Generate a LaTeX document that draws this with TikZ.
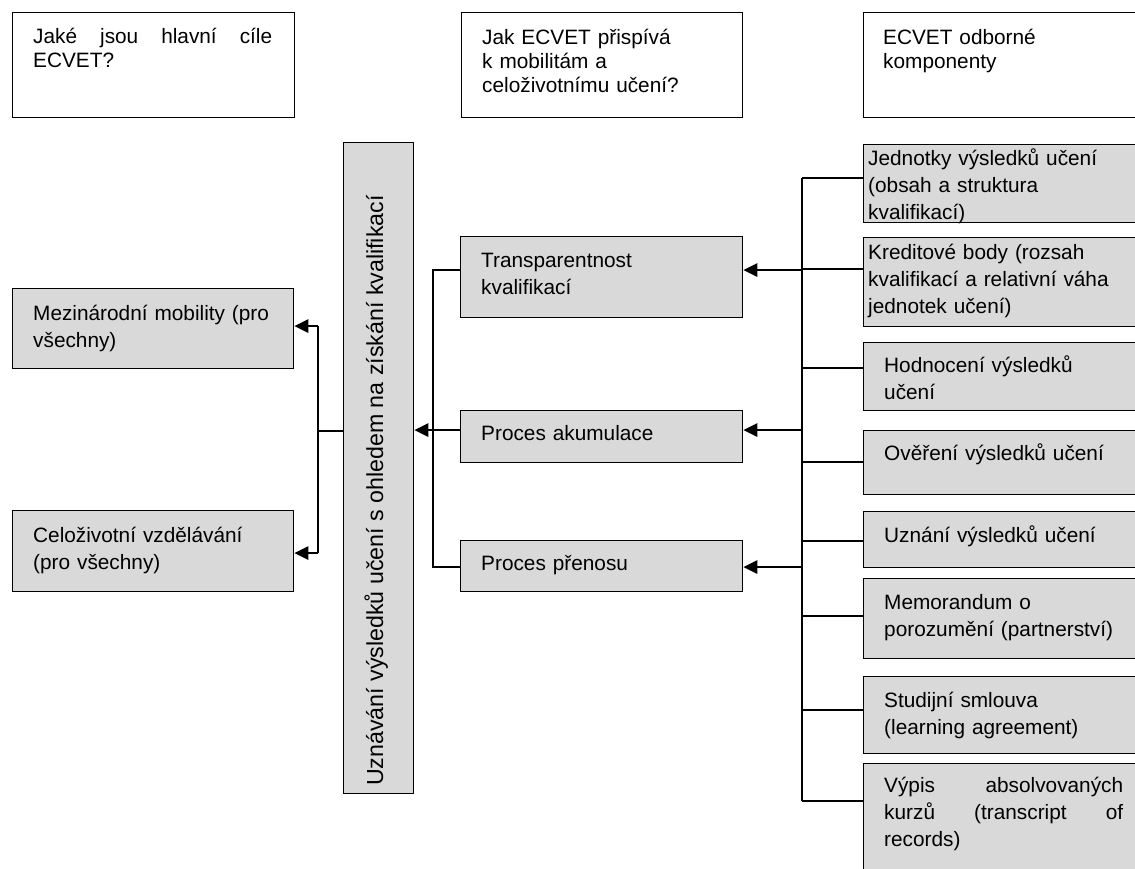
\documentclass[tikz,border=0pt]{standalone}
\usepackage{fontspec}
\setmainfont{Liberation Sans}
\usetikzlibrary{arrows.meta}
\definecolor{boxgrey}{HTML}{D9D9D9}
\begin{document}
\begin{tikzpicture}[x=1pt,y=-1pt,
  wbox/.style={draw=black, line width=1.3pt, fill=white, inner sep=0, anchor=north west},
  gbox/.style={draw=black, line width=1.3pt, fill=boxgrey, inner sep=0, anchor=north west},
  ttxt/.style={anchor=base west, inner sep=0, text width=#1, align=left, font=\fontsize{20.8}{24}\selectfont},
  btxt/.style={anchor=base west, inner sep=0, text width=#1, align=left, font=\fontsize{20.8}{27}\selectfont},
  conn/.style={line width=1.5pt},
  arr/.style={line width=2.7pt, -{Triangle[length=14pt,width=13pt]}}]
\useasboundingbox (0,0) rectangle (1135,868);
\clip (0,0) rectangle (1135,868);

% top question boxes
\node[wbox, minimum width=282pt, minimum height=105pt] (q1) at (12,12) {};
\node[ttxt=239pt] (q1t) at (33,43) {Jaké\hfill jsou\hfill hlavní\hfill cíle\\ECVET?};
\node[wbox, minimum width=281pt, minimum height=105pt] (q2) at (461,12) {};
\node[ttxt=250pt] (q2t) at (482,44) {Jak ECVET přispívá\\k mobilitám a\\celoživotnímu učení?};
\node[wbox, minimum width=272pt, minimum height=105pt] (q3) at (863,12) {};
\node[ttxt=240pt] (q3t) at (883,44) {ECVET odborné\\komponenty};

% left column
\node[gbox, minimum width=281pt, minimum height=80pt] (M) at (12,288) {};
\node[btxt=255pt] (Mt) at (33,320) {Mezinárodní mobility (pro\\všechny)};
\node[gbox, minimum width=281pt, minimum height=81pt] (L) at (12,510) {};
\node[btxt=255pt] (Lt) at (33,542) {Celoživotní vzdělávání\\(pro všechny)};

% central vertical box
\node[gbox, minimum width=70pt, minimum height=651pt] (C) at (343,142) {};
\node[rotate=90, anchor=base west, inner sep=0, font=\fontsize{23.2}{27}\selectfont] (Ct) at (383,786) {Uznávání výsledků učení s ohledem na získání kvalifikací};

% middle column
\node[gbox, minimum width=282pt, minimum height=81pt] (T) at (460,236) {};
\node[btxt=255pt] (Tt) at (481,267) {Transparentnost\\kvalifikací};
\node[gbox, minimum width=282pt, minimum height=52pt] (A) at (460,410) {};
\node[btxt=255pt] (At) at (481,440) {Proces akumulace};
\node[gbox, minimum width=282pt, minimum height=51pt] (P) at (460,540) {};
\node[btxt=255pt] (Pt) at (481,570) {Proces přenosu};

% right column
\node[gbox, minimum width=272pt, minimum height=78pt] (R1) at (863,144) {};
\node[btxt=262pt] (R1t) at (868,165) {Jednotky výsledků učení\\(obsah a struktura\\kvalifikací)};
\node[gbox, minimum width=272pt, minimum height=89pt] (R2) at (863,237) {};
\node[btxt=262pt] (R2t) at (868,259) {Kreditové body (rozsah\\kvalifikací a relativní váha\\jednotek učení)};
\node[gbox, minimum width=272pt, minimum height=68pt] (R3) at (863,342) {};
\node[btxt=245pt] (R3t) at (884,372) {Hodnocení výsledků\\učení};
\node[gbox, minimum width=272pt, minimum height=64pt] (R4) at (863,430) {};
\node[btxt=245pt] (R4t) at (884,460) {Ověření výsledků učení};
\node[gbox, minimum width=272pt, minimum height=56pt] (R5) at (863,511) {};
\node[btxt=245pt] (R5t) at (884,542) {Uznání výsledků učení};
\node[gbox, minimum width=272pt, minimum height=80pt] (R6) at (863,578) {};
\node[btxt=245pt] (R6t) at (884,609) {Memorandum o\\porozumění (partnerství)};
\node[gbox, minimum width=272pt, minimum height=77pt] (R7) at (863,676) {};
\node[btxt=245pt] (R7t) at (884,707) {Studijní smlouva\\(learning agreement)};
\node[gbox, minimum width=272pt, minimum height=115pt] (R8) at (863,763) {};
\node[btxt=239pt] (R8t) at (884,792) {Výpis\hfill absolvovaných\\kurzů\hfill (transcript\hfill of\\records)};

% right spine
\coordinate (s1) at (802,178);
\coordinate (s2) at (802,269);
\coordinate (s3) at (802,368);
\coordinate (s4) at (802,462);
\coordinate (s5) at (802,541);
\coordinate (s6) at (802,616);
\coordinate (s7) at (802,710);
\coordinate (s8) at (802,801);
\draw[conn] (s1) -- (s8);
\draw[conn] (s1) -- (s1 -| R1.west);
\draw[conn] (s2) -- (s2 -| R2.west);
\draw[conn] (s3) -- (s3 -| R3.west);
\draw[conn] (s4) -- (s4 -| R4.west);
\draw[conn] (s5) -- (s5 -| R5.west);
\draw[conn] (s6) -- (s6 -| R6.west);
\draw[conn] (s7) -- (s7 -| R7.west);
\draw[conn] (s8) -- (s8 -| R8.west);
\coordinate (aT) at (802,270);
\coordinate (aA) at (802,430);
\coordinate (aP) at (802,567);
\draw[arr] (aT) -- (aT -| T.east);
\draw[arr] (aA) -- (aA -| A.east);
\draw[arr] (aP) -- (aP -| P.east);

% middle spine
\coordinate (m1) at (433,270);
\coordinate (m2) at (433,430);
\coordinate (m3) at (433,567);
\draw[conn] (m1 -| T.west) -- (m1) -- (m3) -- (m3 -| P.west);
\draw[conn] (m2 -| A.west) -- (m2);
\draw[arr] (m2) -- (m2 -| C.east);

% left spine
\coordinate (l0) at (318,431);
\coordinate (l1) at (318,326);
\coordinate (l2) at (318,553);
\draw[conn] (l0 -| C.west) -- (l0);
\draw[conn] (l1) -- (l2);
\draw[arr] (l1) -- (l1 -| M.east);
\draw[arr] (l2) -- (l2 -| L.east);
\end{tikzpicture}
\end{document}
